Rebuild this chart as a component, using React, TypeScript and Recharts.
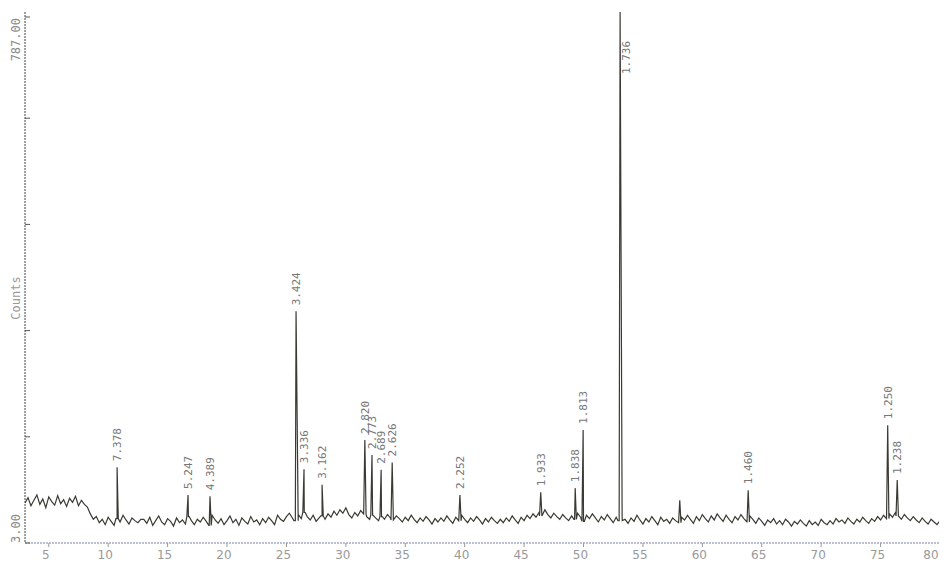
import React from 'react';
import { LineChart, Line, XAxis, YAxis, LabelList } from 'recharts';

// background counts, read every 0.25 deg from 3.00 to 80.00
const bgStart = 3;
const bgStep = 0.25;
const background = [
    62, 70, 58, 66, 74, 60, 68, 55, 71, 64, 59, 73, 61, 67, 57, 69, 63, 72, 58, 66,
    60, 56, 46, 38, 42, 33, 38, 30, 41, 35, 29, 39, 34, 44, 37, 31, 40, 36, 33, 38,
    38, 32, 41, 29, 36, 43, 34, 30, 39, 35, 28, 40, 33, 37, 31, 42, 36, 30, 38, 34,
    41, 35, 29, 44, 37, 32, 39, 30, 36, 43, 33, 38, 29, 40, 35, 31, 42, 34, 37, 30,
    39, 33, 41, 36, 30, 44, 38, 35, 42, 47, 40, 36, 45, 39, 48, 42, 37, 44, 35, 40,
    43, 38, 46, 41, 50, 44, 52, 47, 55, 45, 40, 48, 43, 51, 46, 42, 38, 44, 40, 36,
    42, 38, 45, 40, 37, 43, 39, 34, 41, 36, 44, 38, 33, 40, 35, 42, 37, 31, 39, 34,
    40, 35, 43, 37, 32, 41, 36, 44, 38, 33, 40, 35, 42, 37, 31, 39, 34, 41, 36, 32,
    38, 33, 40, 35, 43, 37, 32, 41, 36, 44, 39, 46, 41, 48, 43, 52, 45, 40, 47, 42,
    38, 45, 40, 36, 43, 38, 47, 41, 35, 44, 39, 46, 40, 34, 42, 37, 45, 39, 33, 41,
    36, 43, 38, 32, 40, 35, 44, 37, 31, 39, 34, 42, 36, 30, 41, 35, 38, 32, 40, 36,
    33, 41, 37, 44, 38, 32, 42, 36, 45, 39, 34, 43, 37, 46, 40, 35, 44, 38, 33, 42,
    37, 45, 39, 34, 43, 38, 32, 40, 35, 29, 37, 33, 39, 31, 36, 30, 38, 34, 28, 35,
    31, 37, 32, 28, 36, 30, 34, 29, 38, 33, 30, 36, 31, 39, 34, 37, 32, 40, 35, 31,
    38, 34, 41, 36, 32, 39, 35, 42, 37, 44, 39, 46, 41, 48, 43, 38, 45, 40, 36, 42,
    37, 33, 40, 35, 31, 38, 34, 30, 36,
];

// peaks: 2-theta, top counts, d-spacing label
const peakPos = [10.75, 16.72, 18.57, 25.81, 26.48, 28.0, 31.6, 32.2, 32.97, 33.9, 39.6, 46.4, 49.3, 49.97, 53.08, 58.1, 63.86, 75.6, 76.4];
const peakTop = [115, 74, 72, 345, 112, 89, 155, 133, 111, 122, 74, 78, 84, 170, 787, 66, 81, 177, 96];
const peakLabel = ['7.378', '5.247', '4.389', '3.424', '3.336', '3.162', '2.820', '2.773', '2.689', '2.626', '2.252', '1.933', '1.838', '1.813', '1.736', '', '1.460', '1.250', '1.238'];

const xTicks = [5, 10, 15, 20, 25, 30, 35, 40, 45, 50, 55, 60, 65, 70, 75, 80];
const yTicks = [3, 159.8, 316.6, 473.4, 630.2, 787];

type Pt = { t: number; c: number; d?: string };

const buildData = (): Pt[] => {
    const pts: Pt[] = background.map((c, i) => ({ t: bgStart + i * bgStep, c }));
    peakPos.forEach((p, i) => {
        const foot = background[Math.round((p - bgStart) / bgStep)];
        const half = peakTop[i] > 300 ? 0.18 : 0.1;
        pts.push({ t: p - half, c: foot });
        pts.push({ t: p, c: peakTop[i], d: peakLabel[i] || undefined });
        pts.push({ t: p + half, c: foot });
    });
    return pts.sort((a, b) => a.t - b.t);
};

const data = buildData();

const PeakLabel = (props: any) => {
    const { x, y, value } = props;
    if (!value) return null;
    const atTop = y < 70;
    const y0 = atTop ? 66 : y - 6;
    const tx = atTop ? x + 10 : x + 4;
    return (
        <text
            x={tx}
            y={y0}
            transform={`rotate(-90, ${tx}, ${y0})`}
            textAnchor="start"
            fontSize={11}
            fontFamily="DejaVu Sans Mono, monospace"
            fill="#777"
        >
            {value}
        </text>
    );
};

const LeftTick = (props: any) => {
    const { y, payload } = props;
    const v = payload.value;
    let label = '';
    if (v === 787) label = '787.00';
    else if (v === 3) label = '3.00';
    const ty = v === 787 ? 10 : y;
    return (
        <g>
            <line x1={17} x2={22} y1={y} y2={y} stroke="#555" />
            {label && (
                <text
                    x={12}
                    y={ty}
                    transform={`rotate(-90, 12, ${ty})`}
                    textAnchor={v === 787 ? 'end' : 'start'}
                    fontSize={12}
                    fontFamily="DejaVu Sans Mono, monospace"
                    fill="#888"
                >
                    {label}
                </text>
            )}
        </g>
    );
};

const BottomTick = (props: any) => {
    const { x, y, payload } = props;
    const last = payload.value === 80;
    return (
        <text
            x={last ? x - 8 : x - 3}
            y={y + 10}
            textAnchor="middle"
            fontSize={12}
            fontFamily="DejaVu Sans"
            fill="#999"
        >
            {payload.value}
        </text>
    );
};

const CountsLabel = () => (
    <text
        x={12}
        y={290}
        transform="rotate(-90, 12, 290)"
        textAnchor="middle"
        fontSize={12}
        fontFamily="DejaVu Sans Mono, monospace"
        fill="#999"
    >
        Counts
    </text>
);

const App = () => {
    return (
        <div style={{ width: 939, height: 555, background: '#fff' }}>
            <LineChart
                width={939}
                height={555}
                data={data}
                margin={{ top: 4, right: 7, bottom: 0, left: 0 }}
            >
                <XAxis
                    dataKey="t"
                    type="number"
                    domain={[3, 80]}
                    ticks={xTicks}
                    allowDataOverflow
                    height={20}
                    tickSize={4}
                    axisLine={{ stroke: '#7a7fa8', strokeDasharray: '2 1' }}
                    tickLine={{ stroke: '#999' }}
                    tick={<BottomTick />}
                />
                <XAxis
                    xAxisId="top"
                    dataKey="t"
                    type="number"
                    orientation="top"
                    domain={[3, 80]}
                    ticks={xTicks}
                    height={0}
                    mirror
                    tickSize={4}
                    tick={false}
                    axisLine={{ stroke: '#555', strokeDasharray: '2 1' }}
                    tickLine={{ stroke: '#777' }}
                />
                <YAxis
                    dataKey="c"
                    type="number"
                    domain={[3, 787]}
                    ticks={yTicks}
                    allowDataOverflow
                    width={17}
                    tickLine={false}
                    tick={<LeftTick />}
                    axisLine={{ stroke: '#444', strokeDasharray: '2 1' }}
                    label={<CountsLabel />}
                />
                <YAxis
                    yAxisId="right"
                    orientation="right"
                    type="number"
                    domain={[3, 787]}
                    ticks={yTicks}
                    width={7}
                    mirror
                    tickSize={5}
                    tick={false}
                    axisLine={{ stroke: '#888', strokeDasharray: '2 1' }}
                    tickLine={{ stroke: '#666' }}
                />
                <Line
                    type="linear"
                    dataKey="c"
                    stroke="#3a3a34"
                    strokeWidth={1.2}
                    dot={false}
                    isAnimationActive={false}
                >
                    <LabelList dataKey="d" content={<PeakLabel />} />
                </Line>
            </LineChart>
        </div>
    );
};

export default App;
